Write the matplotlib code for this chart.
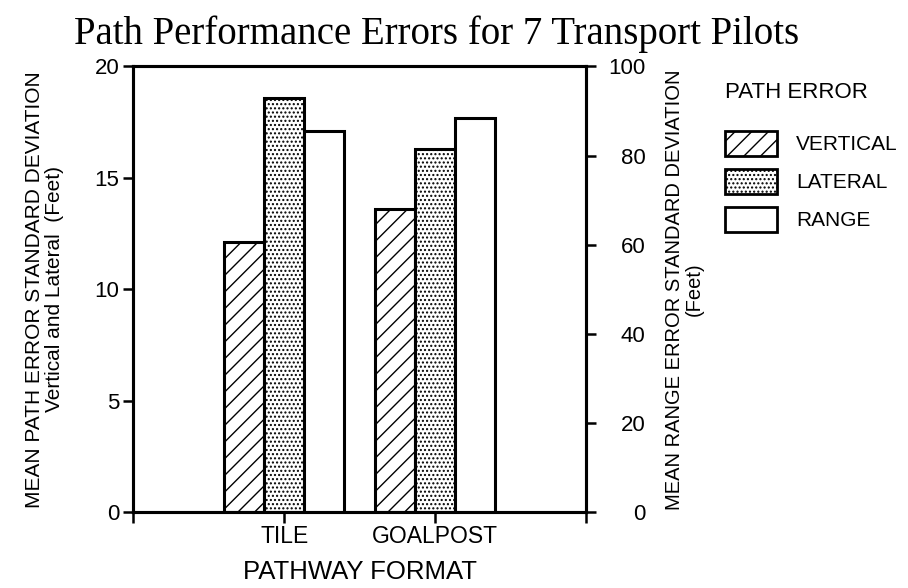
import numpy as np
import matplotlib.pyplot as plt
from matplotlib.patches import Patch

formatos = ['TILE', 'GOALPOST']
vertical = [12.1, 13.6]      # pés (eixo da esquerda)
lateral = [18.6, 16.3]       # pés (eixo da esquerda)
alcance = [85.5, 88.5]       # pés (eixo da direita)

plt.rcParams['font.family'] = ['Liberation Sans', 'DejaVu Sans']
plt.rcParams['hatch.linewidth'] = 1.0

fig = plt.figure(figsize=(9.08, 5.88), dpi=100)
ax = fig.add_axes([0.147, 0.129, 0.498, 0.758])
ax2 = ax.twinx()

x = np.arange(1, len(formatos) + 1)
w = 0.265

ax.bar(x - w, vertical, w, facecolor='white', edgecolor='black', linewidth=2.2, hatch='//')
ax.bar(x, lateral, w, facecolor='white', edgecolor='black', linewidth=2.2, hatch='....')
ax2.bar(x + w, alcance, w, facecolor='white', edgecolor='black', linewidth=2.2)

ax.set_xlim(0, 3)
ax.set_ylim(0, 20)
ax2.set_ylim(0, 100)
ax.set_xticks([0, 1, 2, 3])
ax.set_xticklabels(['', 'TILE', 'GOALPOST', ''])
ax.set_yticks([0, 5, 10, 15, 20])
ax2.set_yticks([0, 20, 40, 60, 80, 100])

for a in (ax, ax2):
    for s in a.spines.values():
        s.set_linewidth(2.2)
ax.tick_params(axis='y', direction='out', length=7, width=1.8, labelsize=16, pad=3)
ax.tick_params(axis='x', direction='out', length=8, width=1.8, labelsize=16.5, pad=1)
# números da direita alinhados pela direita
ax2.tick_params(axis='y', direction='out', length=7, width=1.8, labelsize=16, pad=36)
for t in ax2.get_yticklabels():
    t.set_horizontalalignment('right')

ax.set_ylabel('MEAN PATH ERROR STANDARD DEVIATION\nVertical and Lateral  (Feet)',
              fontsize=15, labelpad=22, linespacing=1.05)
ax2.set_ylabel('MEAN RANGE ERROR STANDARD DEVIATION\n(Feet)',
               fontsize=14.5, labelpad=14, linespacing=1.05)
ax.set_xlabel('PATHWAY FORMAT', fontsize=18.5, labelpad=9)

fig.text(0.481, 0.942, 'Path Performance Errors for 7 Transport Pilots',
         family='Liberation Serif', fontsize=28, ha='center', va='center')

# legenda
itens = [Patch(facecolor='white', edgecolor='black', linewidth=2, hatch='//'),
         Patch(facecolor='white', edgecolor='black', linewidth=2, hatch='....'),
         Patch(facecolor='white', edgecolor='black', linewidth=2)]
leg = fig.legend(itens, ['VERTICAL', 'LATERAL', 'RANGE'], title='PATH ERROR',
                 loc='upper left', bbox_to_anchor=(725 / 908, 1 - 82 / 588),
                 frameon=False, borderpad=0, borderaxespad=0,
                 fontsize=15, title_fontsize=16, handlelength=2.5, handleheight=1.5,
                 labelspacing=0.6, handletextpad=0.9)
leg._legend_box.align = 'left'
leg._legend_box.sep = 20

plt.savefig('out.png', dpi=100)
